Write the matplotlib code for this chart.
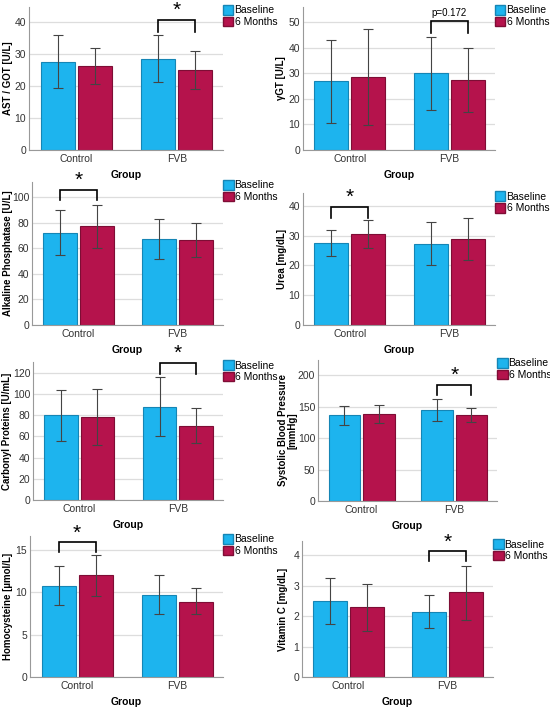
import matplotlib
matplotlib.use("Agg")
import matplotlib.pyplot as plt
from matplotlib.patches import Patch

plt.rcParams['font.family'] = ['Liberation Sans', 'DejaVu Sans']

groups = ["Control", "FVB"]
series = ["Baseline", "6 Months"]

# per panel: baseline means, 6-month means, baseline err (lo, hi), 6m err (lo, hi)
ast_base = [27.5, 28.5]
ast_6m = [26.2, 25.0]
ast_base_err = [(19.3, 35.8), (21.2, 36.0)]
ast_6m_err = [(20.5, 32.0), (19.2, 31.0)]

ggt_base = [27.0, 30.0]
ggt_6m = [28.5, 27.5]
ggt_base_err = [(10.5, 43.0), (15.5, 44.3)]
ggt_6m_err = [(9.8, 47.3), (15.0, 40.0)]

alp_base = [72.0, 67.0]
alp_6m = [77.0, 66.5]
alp_base_err = [(54.5, 90.0), (51.5, 82.5)]
alp_6m_err = [(60.0, 94.0), (53.5, 80.0)]

urea_base = [27.5, 27.3]
urea_6m = [30.5, 28.8]
urea_base_err = [(23.0, 32.0), (20.3, 34.5)]
urea_6m_err = [(26.0, 35.2), (21.8, 36.0)]

carb_base = [80.0, 88.0]
carb_6m = [78.5, 70.0]
carb_base_err = [(56.0, 103.5), (60.0, 116.0)]
carb_6m_err = [(52.0, 104.5), (54.0, 86.5)]

sbp_base = [136.0, 145.0]
sbp_6m = [138.0, 136.0]
sbp_base_err = [(121.0, 151.0), (127.0, 162.0)]
sbp_6m_err = [(124.0, 152.0), (126.0, 148.0)]

hcy_base = [10.8, 9.7]
hcy_6m = [12.0, 8.9]
hcy_base_err = [(8.5, 13.1), (7.4, 12.0)]
hcy_6m_err = [(9.6, 14.4), (7.4, 10.5)]

vitc_base = [2.5, 2.15]
vitc_6m = [2.3, 2.78]
vitc_base_err = [(1.75, 3.25), (1.6, 2.7)]
vitc_6m_err = [(1.52, 3.07), (1.88, 3.66)]

ylabels = ["AST / GOT [U/L]", "\u03b3GT [U/L]", "Alkaline Phosphatase [U/L]", "Urea [mg/dL]",
           "Carbonyl Proteins [U/mL]", "Systolic Blood Pressure\n[mmHg]",
           "Homocysteine [\u00b5mol/L]", "Vitamin C [mg/dL]"]

panels = [
    (ast_base, ast_6m, ast_base_err, ast_6m_err),
    (ggt_base, ggt_6m, ggt_base_err, ggt_6m_err),
    (alp_base, alp_6m, alp_base_err, alp_6m_err),
    (urea_base, urea_6m, urea_base_err, urea_6m_err),
    (carb_base, carb_6m, carb_base_err, carb_6m_err),
    (sbp_base, sbp_6m, sbp_base_err, sbp_6m_err),
    (hcy_base, hcy_6m, hcy_base_err, hcy_6m_err),
    (vitc_base, vitc_6m, vitc_base_err, vitc_6m_err),
]

# significance brackets: (group index, leg bottom, bracket top, label, label y)
brackets = [
    (1, 37.0, 40.5, "*", 40.6),
    (1, 46.0, 50.5, "p=0.172", 51.5),
    (0, 98.0, 105.7, "*", 105.5),
    (0, 35.9, 39.6, "*", 39.5),
    (1, 119.0, 129.5, "*", 129.0),
    (1, 168.0, 185.0, "*", 185.0),
    (0, 14.8, 15.9, "*", 15.85),
    (1, 3.81, 4.14, "*", 4.12),
]

yticks = [[0, 10, 20, 30, 40], [0, 10, 20, 30, 40, 50], [0, 20, 40, 60, 80, 100],
          [0, 10, 20, 30, 40], [0, 20, 40, 60, 80, 100, 120], [0, 50, 100, 150, 200],
          [0, 5, 10, 15], [0, 1, 2, 3, 4]]
ytop = [44.7, 56, 111.7, 44.3, 130, 224, 16.65, 4.47]

W, H = 550, 713
# axes pixel boxes: left, right, top, bottom
boxes = [(29, 223, 7, 150), (303, 495, 7, 150),
         (32, 223, 182, 325), (303, 495, 193, 325),
         (33, 223, 362, 500), (318, 497, 360, 501),
         (30, 223, 536, 677), (302, 493, 541, 677)]
# pixel x of the right edge of each y label
ylab_px = [13, 286, 13, 287, 12, 298, 13, 288]

blue = "#1DB4EE"
red = "#B5134C"
blue_edge = "#1585B5"
red_edge = "#7E0D35"

fig = plt.figure(figsize=(5.5, 7.13), dpi=100)
fig.patch.set_facecolor("white")

width = 0.34
off = 0.185
xs = [0, 1]

for i, (b, m, be, me) in enumerate(panels):
    l, r, t, bt = boxes[i]
    ax = fig.add_axes([l / W, 1 - bt / H, (r - l) / W, (bt - t) / H])
    ax.set_axisbelow(True)
    ax.yaxis.grid(True, color="#dddddd", linewidth=0.9)
    xb = [x - off for x in xs]
    xm = [x + off for x in xs]
    ax.bar(xb, b, width, color=blue, edgecolor=blue_edge, linewidth=0.8)
    ax.bar(xm, m, width, color=red, edgecolor=red_edge, linewidth=0.8)
    for xx, v, e in zip(xb, b, be):
        ax.errorbar([xx], [v], yerr=[[v - e[0]], [e[1] - v]], fmt='none',
                    ecolor="#444444", elinewidth=0.8, capsize=3.5, capthick=0.8)
    for xx, v, e in zip(xm, m, me):
        ax.errorbar([xx], [v], yerr=[[v - e[0]], [e[1] - v]], fmt='none',
                    ecolor="#444444", elinewidth=0.8, capsize=3.5, capthick=0.8)
    g, lo, hi, lab, ly = brackets[i]
    x0, x1 = g - off, g + off
    ax.plot([x0, x0, x1, x1], [lo, hi, hi, lo], color="black", linewidth=1.2,
            clip_on=False, solid_joinstyle='miter')
    if lab == "*":
        ax.text(g, ly, lab, ha="center", va="bottom", fontsize=15, clip_on=False)
    else:
        ax.text(g, ly, lab, ha="center", va="bottom", fontsize=7, clip_on=False)
    ax.set_xlim(-0.47, 1.46)
    ax.set_ylim(0, ytop[i])
    ax.set_yticks(yticks[i])
    ax.set_xticks(xs)
    ax.set_xticklabels(groups)
    ax.tick_params(axis="both", labelsize=7.5, colors="#333333", length=0, pad=2)
    ax.tick_params(axis="x", pad=3)
    for s in ["top", "right"]:
        ax.spines[s].set_visible(False)
    for s in ["left", "bottom"]:
        ax.spines[s].set_color("#999999")
        ax.spines[s].set_linewidth(0.8)
    ax.set_xlabel("Group", fontsize=7.5, fontweight="bold", labelpad=4)
    ax.set_ylabel(ylabels[i], fontsize=7, fontweight="bold", linespacing=1.0,
                  multialignment="center")
    ax.yaxis.set_label_coords((ylab_px[i] - l) / (r - l), 0.5)
    handles = [Patch(facecolor=blue, edgecolor=blue_edge, label=series[0]),
               Patch(facecolor=red, edgecolor=red_edge, label=series[1])]
    ax.legend(handles=handles, loc="upper left", bbox_to_anchor=(0.995, 1.02),
              frameon=False, fontsize=7.5, handlelength=1.0, handleheight=1.0,
              handletextpad=0.1, labelspacing=0.15, borderpad=0.1, borderaxespad=0)

fig.savefig("out.png", dpi=100, facecolor="white")
